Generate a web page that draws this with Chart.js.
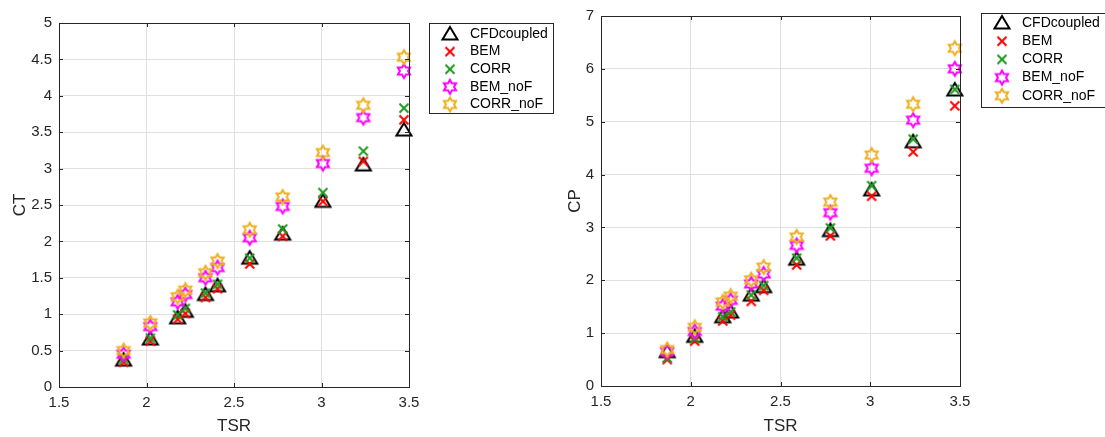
<!DOCTYPE html>
<html lang="en">
<head>
    <meta charset="UTF-8">
    <title>CT and CP vs TSR</title>
    <script src="https://cdn.jsdelivr.net/npm/chart.js"></script>
    <style>
        body {
            margin: 0;
            background-color: #ffffff;
            width: 1105px;
            height: 437px;
            overflow: hidden;
            position: relative;
        }

        canvas {
            position: absolute;
            top: 0;
        }
    </style>
</head>
<body>
    <canvas id="ctChart" width="560" height="437" style="left:0px"></canvas>
    <canvas id="cpChart" width="545" height="437" style="left:560px"></canvas>

    <script>
        // Tip speed ratios (shared by both panels).
        const tsr = [1.869, 2.022, 2.178, 2.222, 2.337, 2.406, 2.590, 2.778, 3.008, 3.239, 3.471];

        const seriesNames = ['CFDcoupled', 'BEM', 'CORR', 'BEM_noF', 'CORR_noF'];

        // Thrust coefficient.
        const ctCfd     = [0.37, 0.66, 0.95, 1.04, 1.27, 1.39, 1.77, 2.10, 2.55, 3.05, 3.53];
        const ctBem     = [0.34, 0.63, 0.93, 1.01, 1.23, 1.35, 1.69, 2.07, 2.55, 3.10, 3.67];
        const ctCorr    = [0.38, 0.67, 0.99, 1.08, 1.29, 1.41, 1.77, 2.17, 2.67, 3.24, 3.83];
        const ctBemNoF  = [0.45, 0.83, 1.17, 1.27, 1.50, 1.64, 2.05, 2.48, 3.07, 3.70, 4.34];
        const ctCorrNoF = [0.50, 0.88, 1.24, 1.33, 1.57, 1.73, 2.16, 2.61, 3.22, 3.87, 4.53];

        // Power coefficient.
        const cpCfd     = [0.65, 0.94, 1.31, 1.40, 1.72, 1.88, 2.40, 2.94, 3.71, 4.62, 5.60];
        const cpBem     = [0.50, 0.85, 1.23, 1.34, 1.60, 1.81, 2.29, 2.84, 3.59, 4.43, 5.30];
        const cpCorr    = [0.53, 0.90, 1.31, 1.40, 1.72, 1.90, 2.42, 2.99, 3.79, 4.67, 5.61];
        const cpBemNoF  = [0.65, 1.03, 1.51, 1.62, 1.93, 2.12, 2.66, 3.28, 4.12, 5.03, 6.00];
        const cpCorrNoF = [0.69, 1.11, 1.59, 1.70, 2.01, 2.25, 2.82, 3.48, 4.37, 5.33, 6.39];

        const colors = ['#000000', '#ff0000', '#1f9a1f', '#ff00ff', '#edb120'];
        const kinds = ['triangle', 'cross', 'cross', 'hexagram', 'hexagram'];

        const axisColor = '#262626';
        const gridColor = '#e0e0e0';
        const fontFamily = '"Liberation Sans", Arial, Helvetica, sans-serif';

        // Build a small canvas holding a MATLAB-like marker.
        function makeMarker(kind, color) {
            const c = document.createElement('canvas');
            c.width = 22;
            c.height = 22;
            const g = c.getContext('2d');
            g.strokeStyle = color;
            g.lineWidth = 2;
            g.lineJoin = 'miter';
            const m = 11;
            g.beginPath();
            if (kind === 'triangle') {
                g.moveTo(m, m - 7);
                g.lineTo(m + 7.5, m + 5.5);
                g.lineTo(m - 7.5, m + 5.5);
                g.closePath();
            } else if (kind === 'cross') {
                g.moveTo(m - 4.5, m - 4.5);
                g.lineTo(m + 4.5, m + 4.5);
                g.moveTo(m + 4.5, m - 4.5);
                g.lineTo(m - 4.5, m + 4.5);
            } else {
                const ro = 7, ri = 7 / Math.sqrt(3);
                for (let i = 0; i < 12; i++) {
                    const r = i % 2 === 0 ? ro : ri;
                    const a = -Math.PI / 2 + i * Math.PI / 6;
                    const px = m + r * Math.cos(a), py = m + r * Math.sin(a);
                    if (i === 0) g.moveTo(px, py); else g.lineTo(px, py);
                }
                g.closePath();
            }
            g.stroke();
            return c;
        }

        const markers = seriesNames.map((_, i) => makeMarker(kinds[i], colors[i]));

        // MATLAB style tick text: 2 rather than 2.0
        const tickText = v => String(parseFloat(Number(v).toFixed(2)));

        // Frame, inward ticks and legend box, drawn after the points.
        const matlabFrame = {
            id: 'matlabFrame',
            afterDraw(chart, args, opts) {
                const ctx = chart.ctx;
                const a = chart.chartArea;
                const xs = chart.scales.x, ys = chart.scales.y;
                ctx.save();
                ctx.strokeStyle = axisColor;
                ctx.lineWidth = 1;
                ctx.beginPath();
                xs.ticks.forEach(t => {
                    const px = Math.round(xs.getPixelForValue(t.value)) + 0.5;
                    ctx.moveTo(px, a.bottom); ctx.lineTo(px, a.bottom - 4);
                    ctx.moveTo(px, a.top); ctx.lineTo(px, a.top + 4);
                });
                ys.ticks.forEach(t => {
                    const py = Math.round(ys.getPixelForValue(t.value)) + 0.5;
                    ctx.moveTo(a.left, py); ctx.lineTo(a.left + 4, py);
                    ctx.moveTo(a.right, py); ctx.lineTo(a.right - 4, py);
                });
                ctx.stroke();
                ctx.strokeRect(Math.round(a.left) + 0.5, Math.round(a.top) + 0.5,
                    Math.round(a.right - a.left), Math.round(a.bottom - a.top));

                // Legend
                const lg = opts.legend;
                ctx.fillStyle = '#ffffff';
                ctx.fillRect(lg.x, lg.y, lg.w, lg.h);
                ctx.strokeStyle = axisColor;
                ctx.strokeRect(lg.x + 0.5, lg.y + 0.5, lg.w, lg.h);
                ctx.font = '14px ' + fontFamily;
                ctx.fillStyle = '#000000';
                ctx.textBaseline = 'middle';
                ctx.textAlign = 'left';
                seriesNames.forEach((name, i) => {
                    const ry = lg.y + lg.first + i * lg.step;
                    const mk = markers[i];
                    ctx.drawImage(mk, lg.x + lg.mx - mk.width / 2, ry - mk.height / 2);
                    ctx.fillText(name, lg.x + lg.tx, ry);
                });
                ctx.restore();
            }
        };

        function buildChart(canvasId, values, cfg) {
            const datasets = values.map((vals, i) => ({
                label: seriesNames[i],
                data: tsr.map((x, k) => ({ x: x, y: vals[k] })),
                pointStyle: markers[i],
                pointRadius: 8,
                borderColor: colors[i],
                backgroundColor: colors[i],
                showLine: false,
                clip: false,
                order: values.length - i
            }));

            return new Chart(document.getElementById(canvasId).getContext('2d'), {
                type: 'scatter',
                data: { datasets: datasets },
                plugins: [matlabFrame],
                options: {
                    responsive: false,
                    animation: false,
                    devicePixelRatio: 1,
                    layout: { padding: { top: cfg.top, right: cfg.right, left: 0, bottom: 0 } },
                    plugins: {
                        legend: { display: false },
                        tooltip: { enabled: false },
                        matlabFrame: { legend: cfg.legend }
                    },
                    scales: {
                        x: {
                            type: 'linear',
                            min: 1.5,
                            max: 3.5,
                            afterFit(scale) { scale.height = cfg.xHeight; },
                            ticks: {
                                stepSize: 0.5, color: axisColor, padding: 7,
                                font: { family: fontFamily, size: 15 },
                                callback: tickText
                            },
                            grid: { color: gridColor, drawTicks: false },
                            border: { display: false },
                            title: {
                                display: true, text: 'TSR', color: axisColor,
                                padding: { top: 3, bottom: 0 },
                                font: { family: fontFamily, size: 17 }
                            }
                        },
                        y: {
                            type: 'linear',
                            min: 0,
                            max: cfg.yMax,
                            afterFit(scale) { scale.width = cfg.yWidth; },
                            ticks: {
                                stepSize: cfg.yStep, color: axisColor, padding: 7,
                                font: { family: fontFamily, size: 15 },
                                callback: tickText
                            },
                            grid: { color: gridColor, drawTicks: false },
                            border: { display: false },
                            title: {
                                display: true, text: cfg.yTitle, color: axisColor,
                                padding: { top: cfg.yTitlePad, bottom: 0 },
                                font: { family: fontFamily, size: 17 }
                            }
                        }
                    }
                }
            });
        }

        const ctChart = buildChart('ctChart', [ctCfd, ctBem, ctCorr, ctBemNoF, ctCorrNoF], {
            top: 23, right: 151, xHeight: 50, yWidth: 59,
            yMax: 5, yStep: 0.5, yTitle: 'CT', yTitlePad: 10,
            legend: { x: 429, y: 23, w: 124, h: 90, first: 11, step: 17.6, mx: 21, tx: 41 }
        });

        const cpChart = buildChart('cpChart', [cpCfd, cpBem, cpCorr, cpBemNoF, cpCorrNoF], {
            top: 13, right: 145, xHeight: 51, yWidth: 41,
            yMax: 7, yStep: 1, yTitle: 'CP', yTitlePad: 5,
            legend: { x: 421, y: 13, w: 132, h: 94, first: 10, step: 18.2, mx: 21, tx: 41 }
        });
    </script>
</body>
</html>
